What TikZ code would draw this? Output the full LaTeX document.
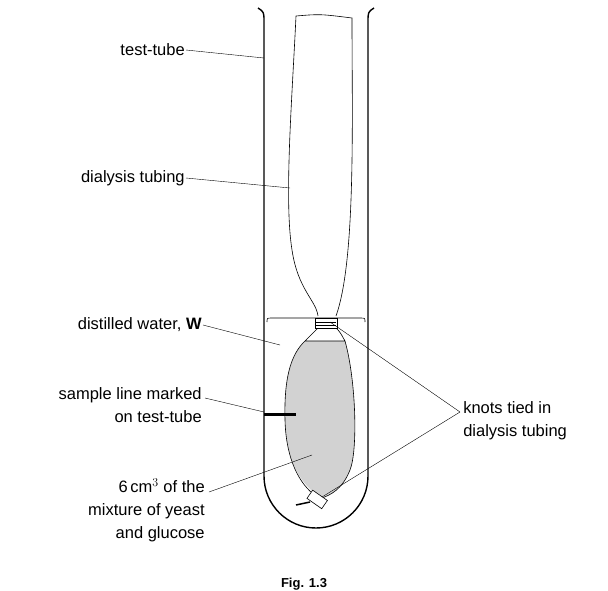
\documentclass[tikz,border=0pt]{standalone}
\usepackage{fontspec}
\setmainfont{Liberation Sans}
\begin{document}
\begin{tikzpicture}[x=1pt,y=-1pt,semithick,
  lbl/.style={font=\fontsize{16.5pt}{23}\selectfont,inner sep=1pt},
  ptr/.style={thin}]
\useasboundingbox (0,0) rectangle (608,590);
% test-tube
\draw[line width=1.4pt] (258,8) .. controls (264,12) .. (264,22) -- (264,476)
  arc (180:0:52) -- (368,22) .. controls (368,12) .. (374,8);
% water surface
\draw (267,322) .. controls (267,318) .. (272,318) -- (360,318) .. controls (365,318) .. (365,322);
% upper dialysis tubing
\draw (296,16) .. controls (320,14) .. (352,18)
  .. controls (352,120) and (356,260) .. (336,316)
  (296,16) .. controls (292,100) and (284,200) .. (292,250)
  .. controls (298,290) and (316,300) .. (318,316);
% lower bag with sample
\fill[gray!35] (305,341) -- (345,341) .. controls (356,380) and (358,450) .. (350,470)
  .. controls (342,490) and (330,495) .. (322,498)
  .. controls (300,485) and (286,460) .. (285,420)
  .. controls (284,380) and (290,355) .. (305,341) -- cycle;
\draw (318,328) .. controls (312,335) .. (305,341) -- (345,341)
  (336,328) .. controls (340,332) .. (345,341)
  .. controls (356,380) and (358,450) .. (350,470)
  .. controls (342,490) and (330,495) .. (322,498)
  (305,341) .. controls (290,355) and (284,380) .. (285,420)
  .. controls (286,460) and (300,485) .. (316,496);
% knots
\draw[fill=white] (315,318) rectangle (337,328);
\draw (316,322) -- (336,322) (316,325) -- (336,325);
\draw[fill=white,rotate around={-35:(318,500)}] (308,495) rectangle (326,505);
\draw[line width=1.5pt] (296,505) -- (310,502);
% sample line
\draw[line width=3pt] (264,414) -- (296,414);
% labels
\coordinate (tt) at (264,58);
\coordinate (dt) at (290,188);
\coordinate (dw) at (280,345);
\coordinate (sl) at (264,412);
\coordinate (mx) at (312,455);
\coordinate (k1) at (330,322);
\coordinate (k2) at (322,497);
\node[lbl,anchor=east] (ttl) at (186,50) {test-tube};
\node[lbl,anchor=east] (dtl) at (186,178) {dialysis tubing};
\node[lbl,anchor=east] (dwl) at (203,325) {distilled water, \textbf{W}};
\node[lbl,anchor=north east,align=right] (sll) at (203,386) {sample line marked\\on test-tube};
\node[lbl,anchor=north east,align=right] (mxl) at (206,477) {6\,cm$^3$ of the\\mixture of yeast\\and glucose};
\node[lbl,anchor=north west,align=left] (kl) at (462,400) {knots tied in\\dialysis tubing};
\node[font=\bfseries\fontsize{13pt}{15}\selectfont] (fig) at (304,584) {Fig. 1.3};
\draw[ptr] (ttl.east) -- (tt);
\draw[ptr] (dtl.east) -- (dt);
\draw[ptr] (dwl.east) -- (dw);
\draw[ptr] (205,398) -- (sl);
\draw[ptr] (209,492) -- (mx);
\draw[ptr] (kl.north west) ++(-2,12) coordinate (kk) -- (k1);
\draw[ptr] (kk) -- (k2);
\end{tikzpicture}
\end{document}
